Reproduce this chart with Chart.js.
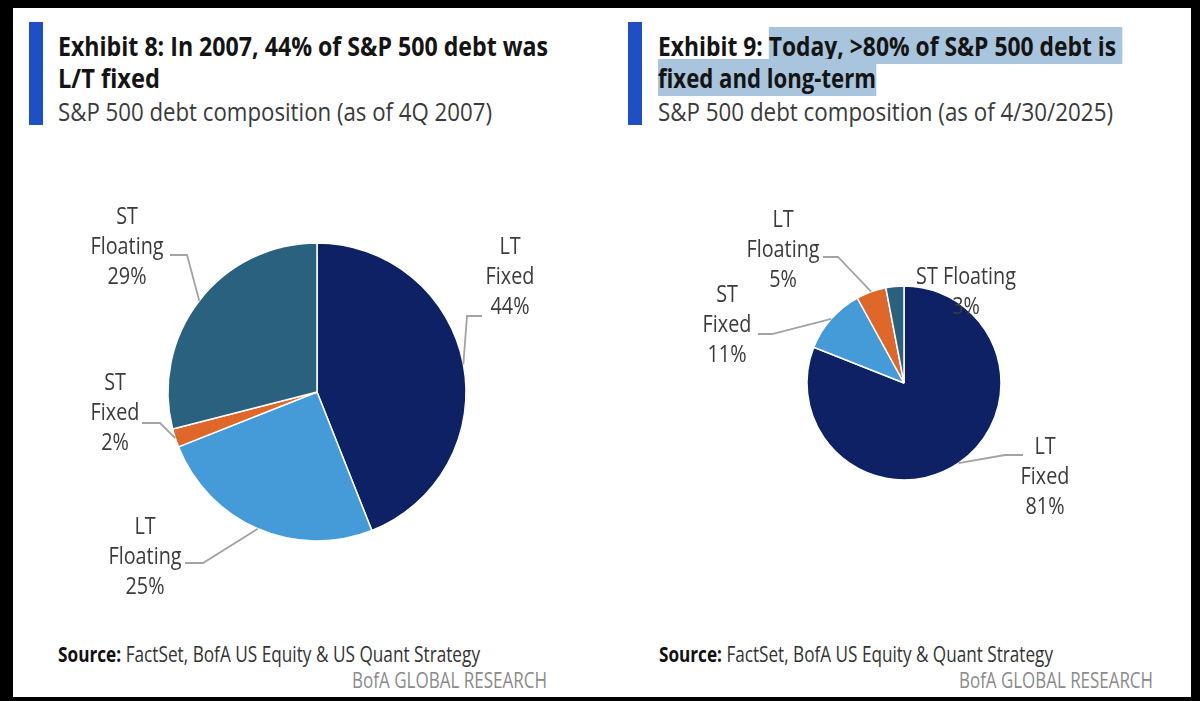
<!DOCTYPE html>
<html>
<head>
<meta charset="utf-8">
<script src="https://cdn.jsdelivr.net/npm/chart.js@4"></script>
<style>
  html, body { margin: 0; padding: 0; }
  body { width: 1200px; height: 701px; background: #000; position: relative; overflow: hidden; font-family: "Open Sans", sans-serif; }
  #paper { position: absolute; left: 13px; top: 8px; width: 1178px; height: 689px; background: #fff; }
  .bar { position: absolute; width: 14px; background: #1f4fc4; }
  .line { position: absolute; white-space: nowrap; transform-origin: 0 0; }
  .title { font-size: 27px; font-weight: 700; color: #141414; line-height: 32px; }
  .sub { font-size: 26px; font-weight: 400; color: #3a3a3a; line-height: 32px; }
  .hl { background: #a9c5dd; }
  .src { font-size: 21px; color: #333; line-height: 24px; }
  .src b { color: #111; }
  .brand { font-size: 21px; color: #8a8a8a; line-height: 24px; }
  .chartbox { position: absolute; }
</style>
</head>
<body>
<div id="paper"></div>

<div class="bar" style="left:29px; top:22px; height:103px;"></div>
<div class="line title" style="left:58px; top:30px;" data-fit="490">Exhibit 8: In 2007, 44% of S&amp;P 500 debt was</div>
<div class="line title" style="left:58px; top:62px;" data-fit="102">L/T fixed</div>
<div class="line sub" style="left:58px; top:95px;" data-fit="434">S&amp;P 500 debt composition (as of 4Q 2007)</div>

<div class="bar" style="left:628px; top:22px; height:103px;"></div>
<div class="line title" style="left:658px; top:30px;" data-fit="464">Exhibit 9: <span class="hl">Today, &gt;80% of S&amp;P 500 debt is&nbsp;</span></div>
<div class="line title" style="left:658px; top:62px;" data-fit="218"><span class="hl">fixed and long-term</span></div>
<div class="line sub" style="left:658px; top:95px;" data-fit="455">S&amp;P 500 debt composition (as of 4/30/2025)</div>

<div class="chartbox" style="left:37px; top:160px; width:560px; height:464px;"><canvas id="pie2007"></canvas></div>
<div class="chartbox" style="left:624px; top:160px; width:560px; height:446px;"><canvas id="pie2025"></canvas></div>

<div class="line src" style="left:58px; top:642px;" data-fit="422"><b>Source:</b> FactSet, BofA US Equity &amp; US Quant Strategy</div>
<div class="line brand" style="left:352px; top:668px;" data-fit="195">BofA GLOBAL RESEARCH</div>
<div class="line src" style="left:659px; top:642px;" data-fit="394"><b>Source:</b> FactSet, BofA US Equity &amp; Quant Strategy</div>
<div class="line brand" style="left:959px; top:668px;" data-fit="194">BofA GLOBAL RESEARCH</div>

<script>
// 4Q 2007
var labels2007 = ["LT Fixed", "LT Floating", "ST Fixed", "ST Floating"];
var values2007 = [44, 25, 2, 29];
var colors2007 = ["#0d2164", "#459ad8", "#e0672a", "#2a617e"];

// 4/30/2025
var labels2025 = ["LT Fixed", "ST Fixed", "LT Floating", "ST Floating"];
var values2025 = [81, 11, 5, 3];
var colors2025 = ["#0d2164", "#459ad8", "#e0672a", "#2a617e"];

// where each outside label sits, relative to the pie centre (px)
var layout2007 = [
    {dx: 193, dy: -145, elbow: [150, -76], end: [165, -76]},
    {dx: -172, dy: 135, elbow: [-114, 171], end: [-132, 171]},
    {dx: -202, dy: -9, elbow: [-157, 31], end: [-175, 31]},
    {dx: -190, dy: -175, elbow: [-130, -137], end: [-147, -137]}
];
var layout2025 = [
    {dx: 141, dy: 64, elbow: [101, 72], end: [119, 72]},
    {dx: -177, dy: -88, elbow: [-132, -49], end: [-146, -49]},
    {dx: -121, dy: -163, elbow: [-66, -126], end: [-81, -126]},
    {dx: 62, dy: -106, oneLine: true}
];

// squeeze html text lines to the width they have in the original
document.querySelectorAll("[data-fit]").forEach(function (el) {
    var w = el.getBoundingClientRect().width;
    el.style.transform = "scaleX(" + (parseFloat(el.dataset.fit) / w) + ")";
});

var calloutPlugin = {
    id: "callouts",
    afterDatasetsDraw: function (chart, args, opts) {
        var ctx = chart.ctx;
        var meta = chart.getDatasetMeta(0);
        var vals = chart.data.datasets[0].data;
        ctx.save();
        meta.data.forEach(function (arc, i) {
            var p = arc.getProps(["x", "y", "startAngle", "endAngle", "outerRadius"], true);
            var lay = opts.layout[i];
            var mid = (p.startAngle + p.endAngle) / 2;
            if (lay.elbow) {
                ctx.beginPath();
                ctx.strokeStyle = "#a3a3a3";
                ctx.lineWidth = 1.8;
                ctx.moveTo(p.x + Math.cos(mid) * p.outerRadius, p.y + Math.sin(mid) * p.outerRadius);
                ctx.lineTo(p.x + lay.elbow[0], p.y + lay.elbow[1]);
                ctx.lineTo(p.x + lay.end[0], p.y + lay.end[1]);
                ctx.stroke();
            }
            var name = chart.data.labels[i];
            var lines = lay.oneLine ? [name] : name.split(" ");
            lines.push(vals[i] + "%");
            ctx.fillStyle = "#3b3b3b";
            ctx.font = "23px 'Open Sans'";
            ctx.textAlign = "center";
            ctx.textBaseline = "middle";
            lines.forEach(function (t, k) {
                ctx.save();
                ctx.translate(p.x + lay.dx, p.y + lay.dy + k * 30);
                ctx.scale(0.86, 1);
                ctx.fillText(t, 0, 0);
                ctx.restore();
            });
        });
        ctx.restore();
    }
};

function makePie(id, labels, values, colors, radius, layout) {
    return new Chart(document.getElementById(id), {
        type: "pie",
        data: {
            labels: labels,
            datasets: [{
                data: values,
                backgroundColor: colors,
                borderColor: "#ffffff",
                borderWidth: 1.5,
                radius: radius
            }]
        },
        options: {
            responsive: true,
            maintainAspectRatio: false,
            animation: false,
            plugins: {
                legend: {display: false},
                tooltip: {enabled: false},
                callouts: {layout: layout}
            }
        },
        plugins: [calloutPlugin]
    });
}

makePie("pie2007", labels2007, values2007, colors2007, 149, layout2007);
makePie("pie2025", labels2025, values2025, colors2025, 97, layout2025);
</script>
</body>
</html>
